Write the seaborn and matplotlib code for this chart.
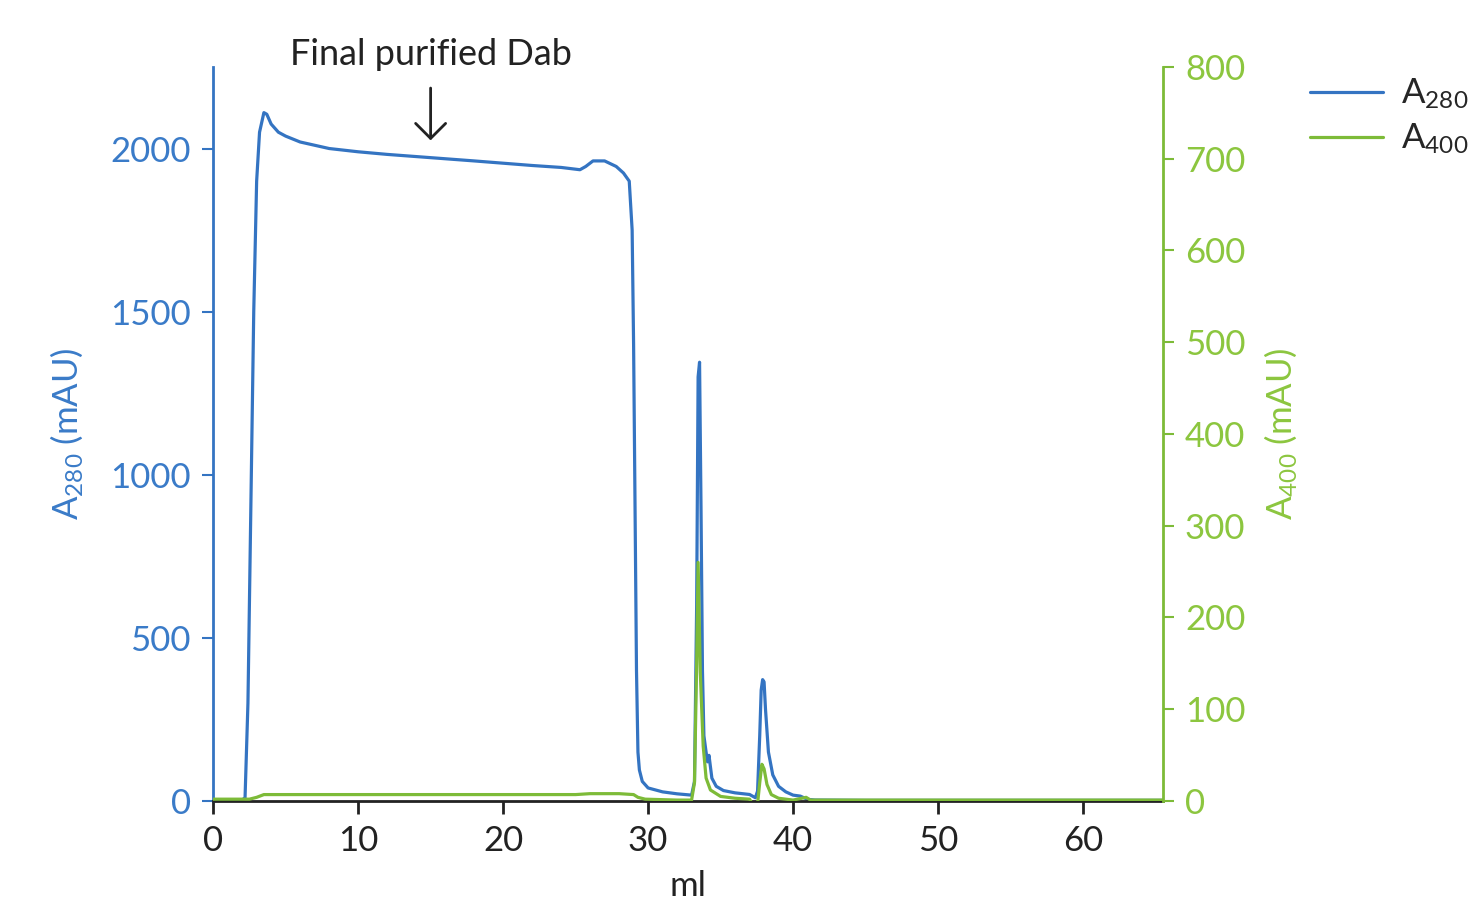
import matplotlib
matplotlib.use("Agg")
import matplotlib.pyplot as plt
import seaborn as sns
import pandas as pd

# -----------------------------
# Data
# -----------------------------
blue_ml = [0, 1, 2, 2.2, 2.4, 2.6, 2.8, 3.0, 3.2, 3.5, 3.7, 4.0, 4.5, 5.0, 6, 7, 8,
           10, 12, 15, 18, 20, 22, 24, 25.3, 25.7, 26.2, 27, 27.8, 28.3, 28.7, 28.9,
           29.0, 29.1, 29.2, 29.3, 29.4, 29.6, 30, 31, 32, 33, 33.2, 33.35, 33.45,
           33.55, 33.65, 33.75, 33.85, 34.0, 34.1, 34.2, 34.4, 34.7, 35.2, 36, 37,
           37.4, 37.55, 37.7, 37.8, 37.9, 38.0, 38.1, 38.3, 38.6, 39.0, 39.5, 40,
           40.5, 41, 41.5, 45, 55, 65.5]
blue_mau = [3, 3, 3, 10, 300, 900, 1500, 1900, 2050, 2110, 2105, 2075, 2050, 2038,
            2020, 2010, 2000, 1990, 1982, 1972, 1962, 1955, 1948, 1942, 1935, 1945,
            1962, 1962, 1945, 1925, 1900, 1750, 1400, 900, 400, 150, 95, 60, 40, 28,
            22, 18, 60, 600, 1300, 1345, 900, 400, 200, 150, 120, 140, 70, 45, 32,
            25, 20, 10, 30, 200, 340, 372, 365, 280, 150, 80, 45, 28, 18, 15, 5, 3,
            2, 2, 2]

green_ml = [0, 2.5, 3.0, 3.5, 10, 20, 25, 26, 28, 29, 29.3, 29.8, 32, 33.0, 33.2,
            33.35, 33.45, 33.6, 33.8, 34.0, 34.3, 35, 36, 37, 37.25, 37.4, 37.55,
            37.7, 37.85, 38.0, 38.2, 38.5, 39, 40, 40.6, 40.9, 41.2, 50, 65.5]
green_mau = [2, 2, 4, 7, 7, 7, 7, 8, 8, 7, 4, 2, 1, 1, 20, 150, 260, 140, 60, 25,
             12, 5, 3, 2, -5, -11, -3, 20, 40, 35, 18, 7, 3, 1, 3, 4, 1, 1, 1]

blue = "#3474c2"
green = "#7dbb38"
blue_txt = "#3a7bc8"
green_txt = "#8cc63f"
dark = "#222222"

df_blue = pd.DataFrame({"ml": blue_ml, "mAU": blue_mau})
df_green = pd.DataFrame({"ml": green_ml, "mAU": green_mau})

# -----------------------------
# Style
# -----------------------------
sns.set_style("white")
plt.rcParams["font.family"] = ["Lato", "DejaVu Sans"]
plt.rcParams["mathtext.default"] = "regular"
fs = 25

fig = plt.figure(figsize=(14.7, 9), dpi=100)
ax = fig.add_axes([0.145, 0.11, 0.646, 0.8156])
ax2 = ax.twinx()

sns.lineplot(data=df_blue, x="ml", y="mAU", ax=ax, color=blue, linewidth=2.3,
             label="A$_{280}$", legend=False)
sns.lineplot(data=df_green, x="ml", y="mAU", ax=ax2, color=green, linewidth=2.3,
             label="A$_{400}$", legend=False)

ax.set_xlim(0, 65.5)
ax.set_ylim(0, 2250)
ax2.set_ylim(0, 800)

ax.set_xticks(range(0, 61, 10))
ax.set_yticks([0, 500, 1000, 1500, 2000])
ax2.set_yticks(range(0, 801, 100))

ax.spines["top"].set_visible(False)
ax2.spines["top"].set_visible(False)
ax.spines["right"].set_visible(False)
ax.spines["left"].set_color(blue)
ax.spines["left"].set_linewidth(2)
ax.spines["bottom"].set_color(dark)
ax.spines["bottom"].set_linewidth(2)
ax2.spines["left"].set_visible(False)
ax2.spines["bottom"].set_visible(False)
ax2.spines["right"].set_color(green)
ax2.spines["right"].set_linewidth(2)

ax.tick_params(axis="x", direction="out", length=9, width=2, colors=dark,
               labelsize=fs, pad=8, bottom=True)
ax.tick_params(axis="y", direction="out", length=8, width=1.5, colors=blue,
               labelcolor=blue_txt, labelsize=fs, pad=8, left=True)
ax2.tick_params(axis="y", direction="out", length=8, width=1.5, colors=green,
                labelcolor=green_txt, labelsize=fs, pad=8, right=True)

ax.set_xlabel("ml", fontsize=fs, color=dark, labelpad=10)
ax.set_ylabel("A$_{280}$ (mAU)", fontsize=fs, color=blue_txt, labelpad=18)
ax2.set_ylabel("A$_{400}$ (mAU)", fontsize=fs, color=green_txt, labelpad=12,
               rotation=90)

# annotation
ax.annotate("Final purified Dab", xy=(15, 2025), xytext=(15, 2238),
            ha="center", va="bottom", fontsize=26, color=dark,
            annotation_clip=False,
            arrowprops=dict(arrowstyle="->, head_length=0.3, head_width=0.3",
                            color=dark, lw=2, mutation_scale=36,
                            shrinkA=10, shrinkB=0))

# legend
h1, l1 = ax.get_legend_handles_labels()
h2, l2 = ax2.get_legend_handles_labels()
fig.legend(h1 + h2, l1 + l2, loc="upper left", bbox_to_anchor=(0.882, 0.93),
           borderaxespad=0, frameon=False, fontsize=fs, handlelength=2.1,
           handletextpad=0.5, labelspacing=0.3)

fig.savefig("out.png", dpi=100)
